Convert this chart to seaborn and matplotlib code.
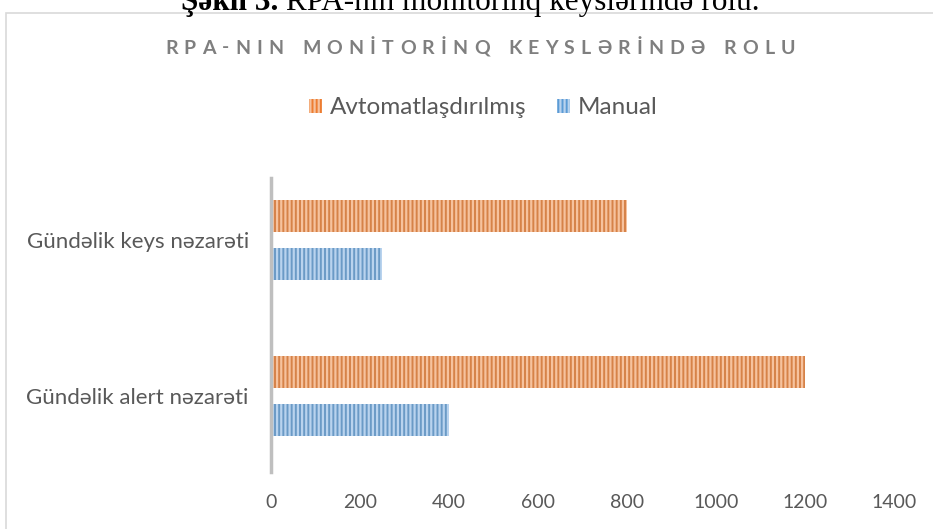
import matplotlib
matplotlib.use("Agg")
import matplotlib.pyplot as plt
import seaborn as sns
import pandas as pd
from matplotlib.patches import Rectangle

# chart data
categories = ["Gündəlik keys nəzarəti", "Gündəlik alert nəzarəti"]
series = ["Avtomatlaşdırılmış", "Manual"]
auto_values = [800, 1200]
manual_values = [250, 400]
x_ticks = [0, 200, 400, 600, 800, 1000, 1200, 1400]

title = "RPA-NIN MONİTORİNQ KEYSLƏRİNDƏ ROLU"
caption_bold = "Şəkil 3."
caption_rest = " RPA-nın monitorinq keyslərində rolu."

colors = {"Avtomatlaşdırılmış": "#ED7D31", "Manual": "#5B9BD5"}
stripe = {"Avtomatlaşdırılmış": "#F6C29E", "Manual": "#B9D3EE"}
text_gray = "#595959"

df = pd.DataFrame({
    "kateqoriya": categories * 2,
    "seriya": [series[0]] * len(categories) + [series[1]] * len(categories),
    "dəyər": auto_values + manual_values,
})

sns.set_theme(style="white")
plt.rcParams["font.family"] = ["Lato", "DejaVu Sans"]
plt.rcParams["hatch.linewidth"] = 1.6

W, H = 933, 529
fig = plt.figure(figsize=(W / 100, H / 100), dpi=100)
ax = fig.add_axes([271 / W, 1 - 472 / H, (894 - 271) / W, (472 - 178) / H])

sns.barplot(data=df, y="kateqoriya", x="dəyər", hue="seriya", order=categories,
            hue_order=series, palette=colors, orient="h", width=0.62, gap=0.34,
            ax=ax, legend=False)

# vertical stripe pattern on bars
for cont, name in zip(ax.containers, series):
    for bar in cont:
        bar.set_hatch("||||")
        bar.set_edgecolor(stripe[name])
        bar.set_linewidth(0)

ax.set_xlim(0, 1400)
ax.set_ylim(1.487, -0.397)
ax.set_xticks(x_ticks)
ax.set_xticklabels([str(t) for t in x_ticks])
ax.set_xlabel("")
ax.set_ylabel("")
ax.tick_params(axis="x", length=0, pad=16, labelsize=14, labelcolor=text_gray)
ax.tick_params(axis="y", length=0, pad=16, labelsize=16, labelcolor=text_gray)
for s in ["top", "right", "bottom"]:
    ax.spines[s].set_visible(False)
ax.spines["left"].set_color("#BFBFBF")
ax.spines["left"].set_linewidth(2.5)

# legend
handles = [Rectangle((0, 0), 1, 1, facecolor=colors[n], edgecolor=stripe[n],
                     hatch="||||", linewidth=0) for n in series]
fig.legend(handles, series, loc="center", bbox_to_anchor=(483 / W, 1 - 108 / H),
           ncol=2, frameon=False, fontsize=17.5, labelcolor=text_gray,
           handlelength=0.55, handleheight=0.55, handletextpad=0.3,
           columnspacing=1.25)

# chart frame (cut off at right and bottom)
fig.add_artist(Rectangle((6 / W, -0.1), 1.2, 1 - 13 / H + 0.1,
                         transform=fig.transFigure, fill=False,
                         edgecolor="#D9D9D9", linewidth=1.2))

fig.canvas.draw()
renderer = fig.canvas.get_renderer()

# letter-spaced title, drawn one character at a time
title_left, title_right, title_y = 165, 795, 1 - 48 / H
chars = []
for ch in title:
    t = fig.text(0, title_y, ch, ha="left", va="center", fontsize=14,
                 fontweight="bold", color="#7F7F7F")
    chars.append((t, t.get_window_extent(renderer).width if ch != " " else 0))
n_gaps = len(title) - 1 + title.count(" ")
track = ((title_right - title_left) - sum(w for _, w in chars)) / n_gaps
x = title_left
for (t, w), ch in zip(chars, title):
    t.set_x(x / W)
    x += w + track * (2 if ch == " " else 1)

# document caption, partly cut off at the top
t1 = fig.text(181 / W, 1 - 10 / H, caption_bold, ha="left", va="baseline",
              fontsize=22.5, fontweight="bold", family="Liberation Serif",
              color="black")
bb = t1.get_window_extent(renderer)
fig.text(bb.x1 / W, 1 - 10 / H, caption_rest, ha="left", va="baseline",
         fontsize=22.5, family="Liberation Serif", color="black")

fig.savefig("out.png", dpi=100)
